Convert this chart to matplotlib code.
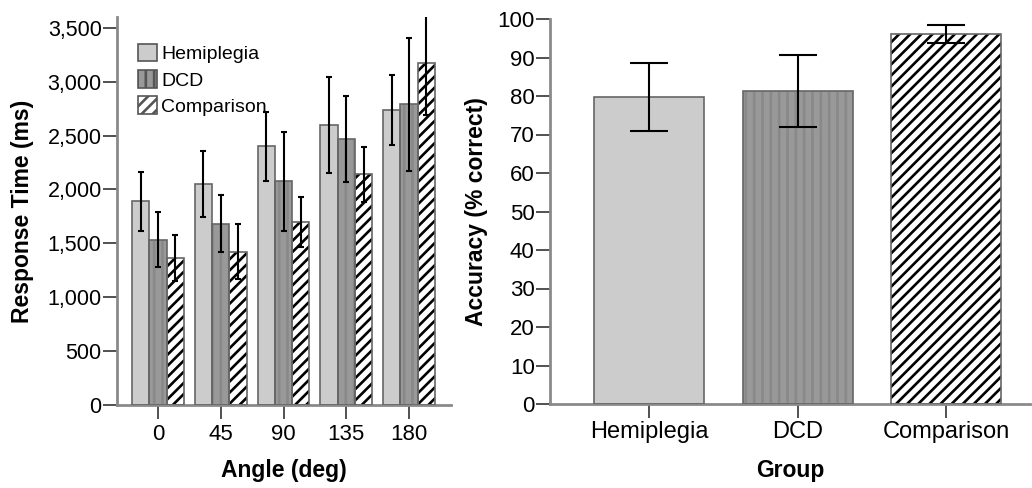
import numpy as np
import matplotlib
matplotlib.use('Agg')
import matplotlib.pyplot as plt
from matplotlib.ticker import StrMethodFormatter

plt.rcParams['font.family'] = ['Liberation Sans', 'DejaVu Sans']
plt.rcParams['hatch.linewidth'] = 1.9

# data
angles = ['0', '45', '90', '135', '180']
groups = ['Hemiplegia', 'DCD', 'Comparison']
rt_mean = {
    'Hemiplegia': [1890, 2050, 2400, 2595, 2740],
    'DCD':        [1535, 1680, 2075, 2465, 2790],
    'Comparison': [1365, 1420, 1700, 2140, 3170],
}
rt_err = {
    'Hemiplegia': [275, 310, 320, 445, 325],
    'DCD':        [255, 265, 460, 400, 615],
    'Comparison': [215, 255, 230, 255, 480],
}
acc_mean = [79.8, 81.3, 96.1]
acc_err = [8.8, 9.3, 2.4]

# styles
fills = {'Hemiplegia': '#cccccc', 'DCD': '#999999', 'Comparison': 'white'}
hatches = {'Hemiplegia': None, 'DCD': '||', 'Comparison': '///'}
hatch_col = {'Hemiplegia': '#666666', 'DCD': '#898989', 'Comparison': 'black'}
spine_col = '#8a8a8a'

fig = plt.figure(figsize=(10.32, 4.88), dpi=100)
W, H = 1032, 488
ax1 = fig.add_axes([117 / W, (H - 405) / H, (451 - 117) / W, (405 - 17) / H])
ax2 = fig.add_axes([550 / W, (H - 404) / H, (1030 - 550) / W, (404 - 19) / H])


def draw_bar(ax, x, h, w, g):
    bars = ax.bar(x, h, w, color=fills[g], hatch=hatches[g],
                  edgecolor=hatch_col[g], linewidth=0, zorder=2, label=g)
    ax.bar(x, h, w, fill=False, edgecolor='#666666', linewidth=1.2, zorder=3)
    return bars


# left panel: response time
x = np.arange(len(angles))
bw = 0.276
handles = []
for i, g in enumerate(groups):
    pos = x + (i - 1) * bw
    b = draw_bar(ax1, pos, rt_mean[g], bw, g)
    handles.append(b)
    ax1.errorbar(pos, rt_mean[g], yerr=rt_err[g], fmt='none', ecolor='black',
                 elinewidth=1.5, capsize=2, capthick=1.5, zorder=4)

ax1.set_xlim(-0.655, 4.67)
ax1.set_ylim(0, 3600)
ax1.set_yticks(np.arange(0, 3501, 500))
ax1.yaxis.set_major_formatter(StrMethodFormatter('{x:,.0f}'))
ax1.set_xticks(x)
ax1.set_xticklabels(angles)
ax1.set_xlabel('Angle (deg)', fontsize=16.5, fontweight='bold')
ax1.set_ylabel('Response Time (ms)', fontsize=16.5, fontweight='bold')
ax1.xaxis.set_label_coords(0.5, -0.139)
ax1.yaxis.set_label_coords(-0.249, 0.5)

leg = ax1.legend(handles=handles, labels=groups, loc='upper left',
                 bbox_to_anchor=((138 - 117) / 334, (405 - 44) / 388),
                 frameon=False, fontsize=14, handlelength=1.0, handleheight=1.0,
                 handletextpad=0.2, labelspacing=0.35, borderpad=0,
                 borderaxespad=0)
for p in leg.get_patches():
    p.set_linewidth(1.2)
    p.set_edgecolor('#555555')

# right panel: accuracy
xg = np.arange(len(groups))
for i, g in enumerate(groups):
    draw_bar(ax2, xg[i], acc_mean[i], 0.74, g)
ax2.errorbar(xg, acc_mean, yerr=acc_err, fmt='none', ecolor='black',
             elinewidth=1.5, capsize=13.5, capthick=1.5, zorder=4)
ax2.set_xlim(-0.667, 2.565)
ax2.set_ylim(0, 100)
ax2.set_yticks(np.arange(0, 101, 10))
ax2.set_xticks(xg)
ax2.set_xticklabels(groups)
ax2.set_xlabel('Group', fontsize=16.5, fontweight='bold')
ax2.set_ylabel('Accuracy (% correct)', fontsize=16.5, fontweight='bold')
ax2.xaxis.set_label_coords(0.5, -0.143)
ax2.yaxis.set_label_coords(-0.129, 0.5)

for ax, fs, xfs, xpad in ((ax1, 15.5, 16, 3.4), (ax2, 16, 17, 2.0)):
    for s in ('top', 'right'):
        ax.spines[s].set_visible(False)
    for s in ('left', 'bottom'):
        ax.spines[s].set_color(spine_col)
        ax.spines[s].set_linewidth(2.0)
    ax.tick_params(axis='y', direction='out', length=10, width=1.1,
                   color='#222222', pad=1, labelsize=fs)
    ax.tick_params(axis='x', direction='out', length=10, width=1.1,
                   color='#222222', pad=xpad, labelsize=xfs)

fig.savefig('out.png', dpi=100)
